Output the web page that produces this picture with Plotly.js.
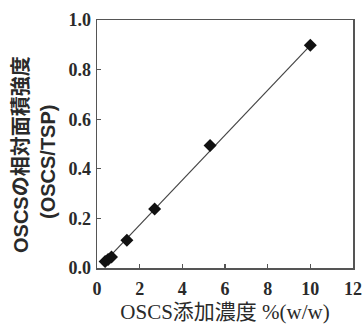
<!DOCTYPE html>
<html>
<head>
<meta charset="utf-8">
<script src="https://cdn.plot.ly/plotly-3.0.1.min.js"></script>
<style>html,body{margin:0;padding:0;background:#fff;}#chart{width:363px;height:326px;}</style>
</head>
<body>
<div id="chart"></div>
<script>
// Measured points (OSCS added concentration %(w/w) vs relative area intensity)
var concX = [0.38, 0.52, 0.68, 1.40, 2.70, 5.30, 10.0];
var ratioY = [0.026, 0.034, 0.044, 0.112, 0.238, 0.494, 0.898];
// Fitted line end points
var fitX = [0.3, 10.0];
var fitY = [0.020, 0.898];
var xTicks = [0, 2, 4, 6, 8, 10, 12];
var yTicks = [0.0, 0.2, 0.4, 0.6, 0.8, 1.0];
var yTitleLines = ['OSCSの相対面積強度', '(OSCS/TSP)'];

var ink = '#2a2a2a';
var serif = 'Liberation Serif, Times New Roman, Times, serif';
var sansBold = {family: 'Liberation Sans, Noto Sans CJK JP', size: 20, color: ink, weight: 'bold'};

var traces = [
  {x: fitX, y: fitY, mode: 'lines', type: 'scatter',
   line: {color: '#444', width: 1.2}, hoverinfo: 'skip'},
  {x: concX, y: ratioY, mode: 'markers', type: 'scatter',
   marker: {symbol: 'diamond', size: 10, color: '#111'}}
];

var layout = {
  width: 363, height: 326,
  margin: {l: 97, r: 10, t: 20, b: 58},
  showlegend: false,
  paper_bgcolor: '#fff', plot_bgcolor: '#fff',
  xaxis: {
    range: [0, 12], tickvals: xTicks, ticktext: xTicks.map(String),
    ticks: 'inside', ticklen: 4, tickwidth: 1.2, tickcolor: '#555',
    showline: true, linecolor: '#555', linewidth: 1.5, mirror: true,
    showgrid: false, zeroline: false,
    ticklabelstandoff: 4,
    tickfont: {family: serif, size: 18, color: ink, weight: 700},
    title: {text: 'OSCS添加濃度 %(w/w)', standoff: 6,
            font: {family: 'Liberation Serif, Noto Sans CJK JP', size: 21, color: ink}}
  },
  yaxis: {
    range: [0, 1.0], tickvals: yTicks, ticktext: yTicks.map(function(v){return v.toFixed(1);}),
    ticks: 'inside', ticklen: 4, tickwidth: 1.2, tickcolor: '#555',
    showline: true, linecolor: '#555', linewidth: 1.5, mirror: true,
    showgrid: false, zeroline: false,
    ticklabelstandoff: 1,
    tickfont: {family: serif, size: 18, color: ink, weight: 700}
  },
  annotations: [
    {text: yTitleLines[0], xref: 'paper', yref: 'paper', x: 0, y: 0.5,
     xanchor: 'center', yanchor: 'middle', xshift: -76, yshift: -11,
     textangle: -90, showarrow: false, font: sansBold},
    {text: yTitleLines[1], xref: 'paper', yref: 'paper', x: 0, y: 0.5,
     xanchor: 'center', yanchor: 'middle', xshift: -49, yshift: -18,
     textangle: -90, showarrow: false, font: sansBold}
  ]
};

Plotly.newPlot('chart', traces, layout, {displayModeBar: false, staticPlot: true});
</script>
</body>
</html>
